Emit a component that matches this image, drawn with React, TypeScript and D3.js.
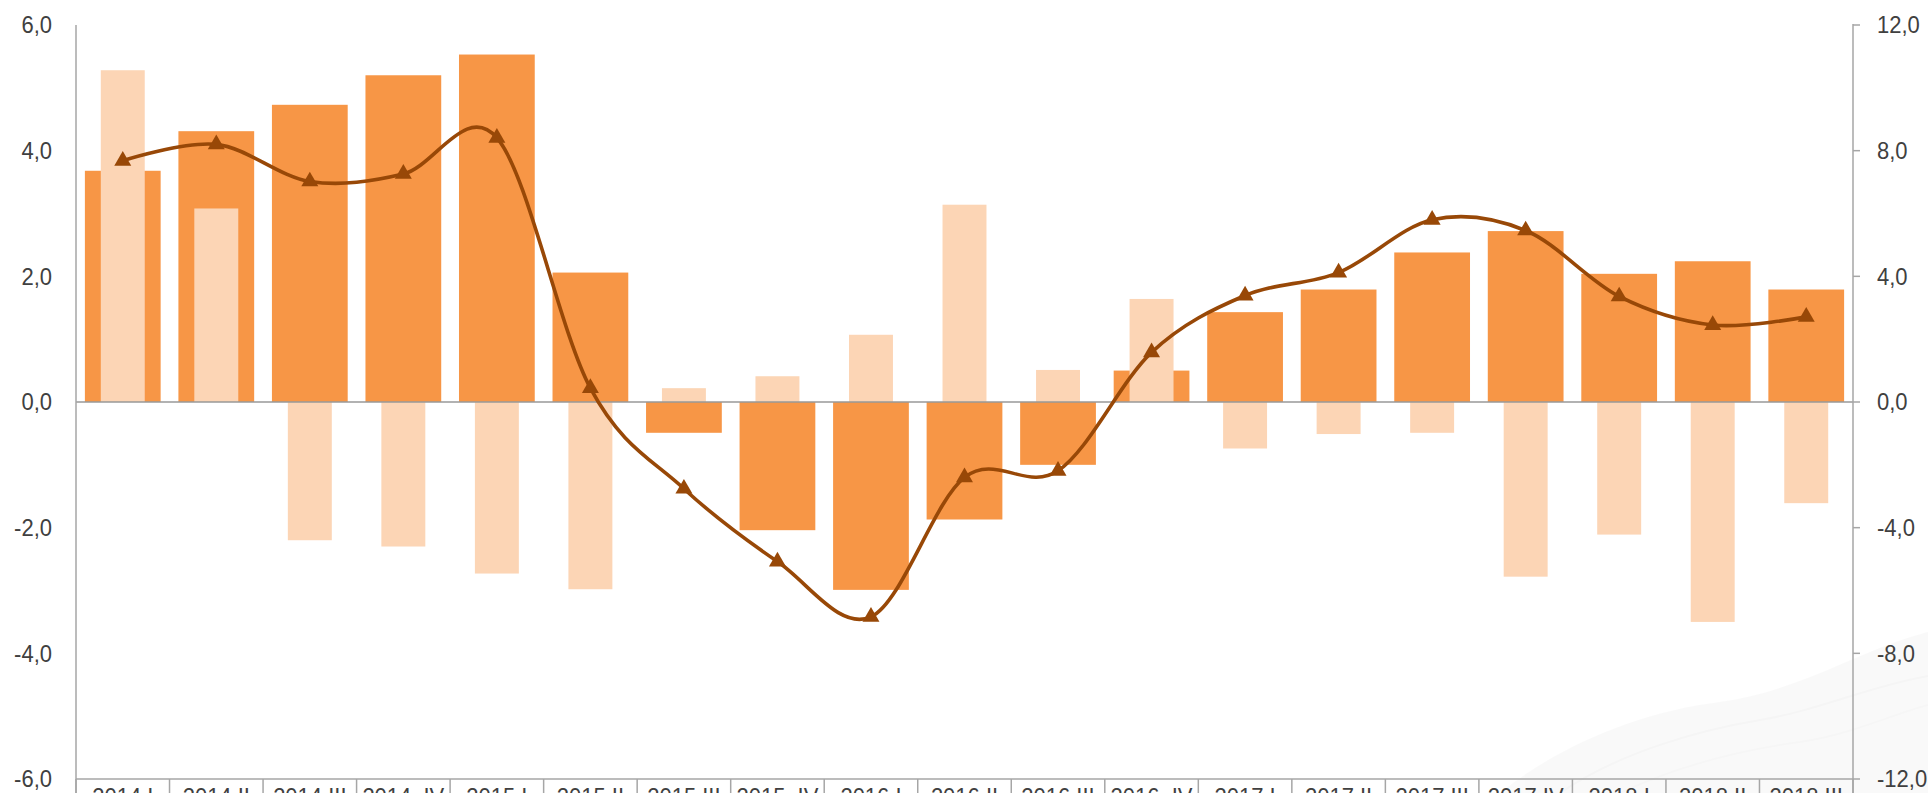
import React from "react";
import * as d3 from "d3";

const categories = [
  "2014 I", "2014 II", "2014 III", "2014  IV",
  "2015 I", "2015 II", "2015 III", "2015  IV",
  "2016 I", "2016 II", "2016 III", "2016  IV",
  "2017 I", "2017 II", "2017 III", "2017 IV",
  "2018 I", "2018 II", "2018 III",
];
const darkValues = [3.68, 4.31, 4.73, 5.2, 5.53, 2.06, -0.49, -2.04, -2.99, -1.87, -1.0, 0.5, 1.43, 1.79, 2.38, 2.72, 2.04, 2.24, 1.79];
const lightValues = [5.28, 3.08, -2.2, -2.3, -2.73, -2.98, 0.22, 0.41, 1.07, 3.14, 0.51, 1.64, -0.74, -0.51, -0.49, -2.78, -2.11, -3.5, -1.61];
const lineValues = [7.68, 8.2, 7.02, 7.26, 8.41, 0.44, -2.76, -5.08, -6.84, -2.4, -2.19, 1.58, 3.39, 4.12, 5.8, 5.46, 3.36, 2.45, 2.71];
const leftTicks = [6, 4, 2, 0, -2, -4, -6];
const rightTicks = [12, 8, 4, 0, -4, -8, -12];

const W = 1928;
const H = 793;
const left = 76;
const right = 1853;
const top = 25;
const bottom = 779;

const fmt = (v: number) => v.toFixed(1).replace(".", ",");

export default function App() {
  const x = d3.scaleBand<string>().domain(categories).range([left, right]).paddingInner(0.19).paddingOuter(0.095);
  const step = x.step();
  const yL = d3.scaleLinear().domain([-6, 6]).range([bottom, top]);
  const yR = d3.scaleLinear().domain([-12, 12]).range([bottom, top]);
  const cx = (c: string) => (x(c) as number) + x.bandwidth() / 2;
  const lightW = step * 0.47;

  const line = d3
    .line<number>()
    .x((_, i) => cx(categories[i]))
    .y((d) => yR(d))
    .curve(d3.curveCardinal.tension(0));

  const tri = d3.symbol().type(d3.symbolTriangle).size(125)();

  const font = "'Liberation Sans', Arial, sans-serif";
  const axisColor = "#a6a6a6";
  const textColor = "#404040";

  const separators = d3.range(categories.length + 1).map((i) => left + i * ((right - left) / categories.length));

  return (
    <svg width={W} height={H} style={{ position: "absolute", left: 0, top: 0, background: "#fff" }} fontFamily={font}>
      {/* faint watermark */}
      <g opacity={0.35}>
        <path
          d="M1500,793 C1560,745 1640,712 1720,702 C1780,694 1830,668 1880,648 C1905,638 1928,632 1928,632 L1928,793 Z"
          fill="#f0f0f0"
        />
        <path d="M1560,793 C1620,752 1700,730 1760,720 C1820,710 1870,686 1928,676" fill="none" stroke="#e4e4e4" strokeWidth={2} />
        <path d="M1620,793 C1680,765 1740,750 1800,742 C1850,735 1890,715 1928,705" fill="none" stroke="#e8e8e8" strokeWidth={2} />
      </g>

      {/* dark bars */}
      {darkValues.map((v, i) => (
        <rect
          key={"d" + i}
          x={x(categories[i])}
          width={x.bandwidth()}
          y={Math.min(yL(v), yL(0))}
          height={Math.abs(yL(v) - yL(0))}
          fill="#f79646"
        />
      ))}
      {/* light bars */}
      {lightValues.map((v, i) => (
        <rect
          key={"l" + i}
          x={cx(categories[i]) - lightW / 2}
          width={lightW}
          y={Math.min(yL(v), yL(0))}
          height={Math.abs(yL(v) - yL(0))}
          fill="#fcd5b5"
        />
      ))}

      {/* zero line */}
      <line x1={left} x2={right} y1={yL(0)} y2={yL(0)} stroke="#999" strokeWidth={1.5} />

      {/* left axis */}
      <line x1={left} x2={left} y1={top} y2={H} stroke={axisColor} strokeWidth={1.5} />
      {leftTicks.map((t) => (
        <text
          key={"lt" + t}
          transform={`translate(52,${yL(t)}) scale(1,1.1)`}
          textAnchor="end"
          dominantBaseline="central"
          fontSize={22}
          fill={textColor}
        >
          {fmt(t)}
        </text>
      ))}

      {/* right axis */}
      <line x1={right} x2={right} y1={top - 1} y2={H} stroke={axisColor} strokeWidth={1.5} />
      {rightTicks.map((t) => (
        <g key={"rt" + t}>
          <line x1={right} x2={right + 7} y1={yR(t)} y2={yR(t)} stroke={axisColor} strokeWidth={1.5} />
          <text
            transform={`translate(1877,${yR(t)}) scale(1,1.1)`}
            textAnchor="start"
            dominantBaseline="central"
            fontSize={22}
            fill={textColor}
          >
            {fmt(t)}
          </text>
        </g>
      ))}

      {/* bottom axis and category table */}
      <line x1={left} x2={right} y1={bottom} y2={bottom} stroke={axisColor} strokeWidth={1.5} />
      {separators.map((sx, i) => (
        <line key={"s" + i} x1={sx} x2={sx} y1={bottom} y2={H} stroke={axisColor} strokeWidth={1.5} />
      ))}
      {categories.map((c) => (
        <text
          key={"c" + c}
          transform={`translate(${cx(c)},805) scale(1,1.1)`}
          textAnchor="middle"
          fontSize={22}
          fill={textColor}
          style={{ whiteSpace: "pre" }}
        >
          {c}
        </text>
      ))}

      {/* line series */}
      <path d={line(lineValues) || ""} fill="none" stroke="#984807" strokeWidth={3.6} />
      {lineValues.map((v, i) => (
        <path key={"m" + i} d={tri || ""} transform={`translate(${cx(categories[i])},${yR(v)})`} fill="#984807" />
      ))}
    </svg>
  );
}
